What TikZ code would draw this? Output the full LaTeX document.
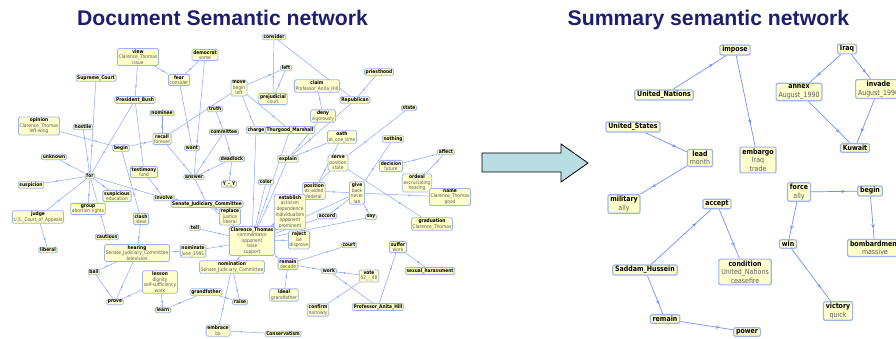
\documentclass[tikz,border=0pt]{standalone}
\usepackage{fontspec}
\setmainfont{DejaVu Sans}
\newfontfamily\nf[FakeStretch=0.87]{DejaVu Sans}
\newfontfamily\tf{Liberation Sans}
\usetikzlibrary{decorations.markings,arrows.meta}
\definecolor{nfill}{HTML}{FFFFCC}
\definecolor{nbord}{HTML}{9DB4F2}
\definecolor{elink}{HTML}{88A6FF}
\definecolor{rlink}{HTML}{6F90FF}
\definecolor{dg}{HTML}{5A5A5A}
\definecolor{ttl}{HTML}{1E1E6E}
\definecolor{afill}{HTML}{B8DDE2}
\pgfdeclarelayer{bg}
\pgfsetlayers{bg,main}
\newcommand\hd[1]{\textcolor{black}{\textbf{#1}}}
\begin{document}
\begin{tikzpicture}[x=1pt,y=-1pt,
 sn/.style={draw=nbord, fill=nfill, rounded corners=1.5pt, line width=0.8pt, align=center, inner xsep=1.3pt, inner ysep=0.9pt, text=dg, font=\nf\fontsize{5}{5.6}\selectfont},
 bn/.style={draw=nbord, fill=nfill, rounded corners=2pt, line width=1.2pt, align=center, inner xsep=2.4pt, inner ysep=1.5pt, text=dg, font=\nf\fontsize{7.2}{8.6}\selectfont},
 lk/.style={draw=elink, line width=0.5pt, postaction={decorate}, decoration={markings, mark=at position 0.72 with {\arrow{Stealth[length=2.6pt,width=2.2pt]}}}},
 rk/.style={draw=rlink, line width=0.7pt, postaction={decorate}, decoration={markings, mark=at position 0.75 with {\arrow{Stealth[length=4.2pt,width=3.4pt]}}}},
 ttlstyle/.style={font=\tf\bfseries\fontsize{21.2}{24}\selectfont, text=ttl, inner sep=0pt, anchor=base}
]
\useasboundingbox (0,0) rectangle (896,339);
\clip (0,0) rectangle (896,339);

% titles
\node[ttlstyle] (t1) at (222.5,26) {Document Semantic network};
\node[ttlstyle] (t2) at (708.5,26) {Summary semantic network};

% block arrow
\draw[fill=afill, draw=black, line width=0.8pt] (482,153) -- (561,153) -- (561,144) -- (588,163) -- (561,182) -- (561,172) -- (482,172) -- cycle;

% ---------------- left network ----------------
\node[sn] (view) at (138,57) {\hd{view}\\Clarence\_Thomas\\issue};
\node[sn] (democrat) at (205,55) {\hd{democrat}\\some};
\node[sn] (consider) at (274,37) {\hd{consider}};
\node[sn] (supreme) at (96,78) {\hd{Supreme\_Court}};
\node[sn] (fear) at (179,80) {\hd{fear}\\consider};
\node[sn] (left) at (286,68) {\hd{left}};
\node[sn] (claim) at (317,86) {\hd{claim}\\Professor\_Anita\_Hill};
\node[sn] (priesthood) at (379,72) {\hd{priesthood}};
\node[sn] (move) at (239,88) {\hd{move}\\begin\\left};
\node[sn] (prejudicial) at (273,99) {\hd{prejudicial}\\court};
\node[sn] (bush) at (135,100) {\hd{President\_Bush}};
\node[sn] (republican) at (355,100) {\hd{Republican}};
\node[sn] (deny) at (323,116) {\hd{deny}\\vigorously};
\node[sn] (state) at (409,108) {\hd{state}};
\node[sn] (nominee) at (162,113) {\hd{nominee}};
\node[sn] (truth) at (215,109) {\hd{truth}};
\node[sn] (opinion) at (39,126) {\hd{opinion}\\Clarence\_Thomas\\left-wing};
\node[sn] (hostile) at (83,127) {\hd{hostile}};
\node[sn] (recall) at (162,139) {\hd{recall}\\forever};
\node[sn] (want) at (192,148) {\hd{want}};
\node[sn] (committee) at (224,132) {\hd{committee}};
\node[sn] (charge) at (256,130) {\hd{charge}};
\node[sn] (thurgood) at (290,130) {\hd{Thurgood\_Marshall}};
\node[sn] (oath) at (342,137) {\hd{oath}\\at\_one\_time};
\node[sn] (nothing) at (393,139) {\hd{nothing}};
\node[sn] (affect) at (446,152) {\hd{affect}};
\node[sn] (beginl) at (121,148) {\hd{begin}};
\node[sn] (deadlock) at (232,159) {\hd{deadlock}};
\node[sn] (explain) at (288,159) {\hd{explain}};
\node[sn] (unknown) at (54,157) {\hd{unknown}};
\node[sn] (serve) at (338,163) {\hd{serve}\\position\\state};
\node[sn] (decision) at (391,166) {\hd{decision}\\future};
\node[sn] (testimony) at (144,172) {\hd{testimony}\\fund};
\node[sn] (answer) at (194,177) {\hd{answer}};
\node[sn] (ordeal) at (417,183) {\hd{ordeal}\\excruciating\\hearing};
\node[sn] (forn) at (90,176) {\hd{for}};
\node[sn] (give) at (357,193) {\hd{give}\\back\\never\\lab};
\node[sn] (position) at (314,191) {\hd{position}\\ex-aided\\federal};
\node[sn] (yy) at (229,184) {\hd{Y\_-\_Y}};
\node[sn] (color) at (266,182) {\hd{color}};
\node[sn] (suspicion) at (31,185) {\hd{suspicion}};
\node[sn] (suspicious) at (117,196) {\hd{suspicious}\\education};
\node[sn] (name) at (450,197) {\hd{name}\\Clarence\_Thomas\\good};
\node[sn] (involve) at (164,198) {\hd{involve}};
\node[sn] (establish) at (290,212) {\hd{establish}\\activism\\dependence\\individualism\\opponent\\prominent};
\node[sn] (group) at (88,209) {\hd{group}\\abortion rights};
\node[sn] (judge) at (38,217) {\hd{judge}\\U.S.\_Court\_of\_Appeals};
\node[sn] (clash) at (141,219) {\hd{clash}\\ideal};
\node[sn] (accord) at (327,216) {\hd{accord}};
\node[sn] (say) at (371,217) {\hd{say}};
\node[sn] (replace) at (230,216.5) {\hd{replace}\\justice\\liberal};
\node[sn] (sjc) at (207,204) {\hd{Senate\_Judiciary\_Committee}};
\node[sn] (graduation) at (432,224) {\hd{graduation}\\Clarence\_Thomas};
\node[sn] (tell) at (195,228) {\hd{tell}};
\node[sn] (ct) at (252,241) {\hd{Clarence\_Thomas}\\commentator\\opponent\\raise\\support};
\node[sn] (reject) at (299,240) {\hd{reject}\\be\\disprove};
\node[sn] (court) at (349,245) {\hd{court}};
\node[sn] (cautious) at (107,237) {\hd{cautious}};
\node[sn] (liberal) at (48,250) {\hd{liberal}};
\node[sn] (hearing) at (137,253) {\hd{hearing}\\Senate\_Judiciary\_Committee\\television};
\node[sn] (nominate) at (193,251) {\hd{nominate}\\June\_1991};
\node[sn] (remain) at (288,264) {\hd{remain}\\decade};
\node[sn] (suffer) at (398,247) {\hd{suffer}\\work};
\node[sn] (nomination) at (232,267) {\hd{nomination}\\Senate\_Judiciary\_Committee};
\node[sn] (harass) at (430,271) {\hd{sexual\_harassment}};
\node[sn] (work) at (329,271) {\hd{work}};
\node[sn] (vote) at (369,276) {\hd{vote}\\52\_-\_48};
\node[sn] (bail) at (94,272) {\hd{bail}};
\node[sn] (lesson) at (160,282) {\hd{lesson}\\dignity\\self-sufficiency\\work};
\node[sn] (grandfather) at (206,292) {\hd{grandfather}};
\node[sn] (ideal) at (284,295) {\hd{ideal}\\grandfather};
\node[sn] (raise) at (240,302) {\hd{raise}};
\node[sn] (prove) at (115,302) {\hd{prove}};
\node[sn] (learn) at (163,310) {\hd{learn}};
\node[sn] (confirm) at (318,310) {\hd{confirm}\\narrowly};
\node[sn] (anita) at (378,307) {\hd{Professor\_Anita\_Hill}};
\node[sn, anchor=north] (embrace) at (218,324.5) {\hd{embrace}\\be};
\node[sn] (conserv) at (283,334) {\hd{Conservatism}};

\begin{pgfonlayer}{bg}
\foreach \a/\b in {view/bush, view/fear, democrat/fear, democrat/answer, fear/want,
  supreme/forn, bush/forn, bush/testimony, consider/prejudicial, consider/republican,
  move/left, recall/move, move/charge, move/thurgood, deny/claim, priesthood/republican,
  republican/explain, state/serve, nothing/give, affect/decision, ordeal/affect,
  give/name, give/position, give/accord, give/say, serve/graduation, serve/establish,
  oath/position, opinion/beginl, hostile/forn, beginl/recall, beginl/clash,
  forn/unknown, forn/suspicion, forn/group, forn/judge, forn/suspicious, forn/involve,
  forn/cautious, testimony/involve, nominee/recall, recall/answer, committee/answer,
  deadlock/yy, committee/deadlock, deadlock/answer, truth/committee, involve/sjc,
  sjc/ct, sjc/replace, answer/sjc, thurgood/ct, charge/ct, color/ct, explain/ct,
  establish/ct, position/ct, accord/ct, say/ct, give/ct, tell/ct, nominate/ct,
  nomination/ct, ct/reject, ct/remain, remain/court, remain/work, ideal/remain,
  vote/work, vote/confirm, anita/work, anita/suffer, suffer/harass, judge/liberal,
  clash/hearing, hearing/bail, bail/prove, hearing/prove, lesson/prove, lesson/learn,
  hearing/nominate, grandfather/learn, grandfather/raise, nomination/raise,
  nomination/embrace, conserv/embrace, deny/explain, oath/explain, left/prejudicial}
  \path[lk] (\a) -- (\b);
\end{pgfonlayer}

% ---------------- right network ----------------
\node[bn] (impose) at (735,50) {\hd{impose}};
\node[bn] (iraq) at (847,49) {\hd{Iraq}};
\node[bn] (un) at (664,95) {\hd{United\_Nations}};
\node[bn] (annex) at (799,92) {\hd{annex}\\August\_1990};
\node[bn, anchor=west] (invade) at (855,89) {\hd{invade}\\August\_1990};
\node[bn] (us) at (633,127) {\hd{United\_States}};
\node[bn] (lead) at (700,158) {\hd{lead}\\month};
\node[bn] (embargo) at (758,160) {\hd{embargo}\\Iraq\\trade};
\node[bn] (kuwait) at (855,148) {\hd{Kuwait}};
\node[bn] (military) at (624,204) {\hd{military}\\ally};
\node[bn] (accept) at (717,204) {\hd{accept}};
\node[bn] (force) at (799,192) {\hd{force}\\ally};
\node[bn] (beginr) at (870,191) {\hd{begin}};
\node[bn] (win) at (788,244) {\hd{win}};
\node[bn, anchor=west] (bomb) at (847,248) {\hd{bombardment}\\massive};
\node[bn] (saddam) at (645,270) {\hd{Saddam\_Hussein}};
\node[bn] (cond) at (745,272) {\hd{condition}\\United\_Nations\\ceasefire};
\node[bn] (victory) at (838,311) {\hd{victory}\\quick};
\node[bn] (remainr) at (665,319) {\hd{remain}};
\node[bn] (power) at (747,332) {\hd{power}};

\begin{pgfonlayer}{bg}
\foreach \a/\b in {un/impose, impose/embargo, iraq/annex, iraq/invade, annex/kuwait,
  invade/kuwait, us/lead, lead/military, force/beginr, force/win, beginr/bomb,
  win/victory, saddam/accept, accept/cond, saddam/remainr, remainr/power}
  \path[rk] (\a) -- (\b);
\end{pgfonlayer}
\end{tikzpicture}
\end{document}
